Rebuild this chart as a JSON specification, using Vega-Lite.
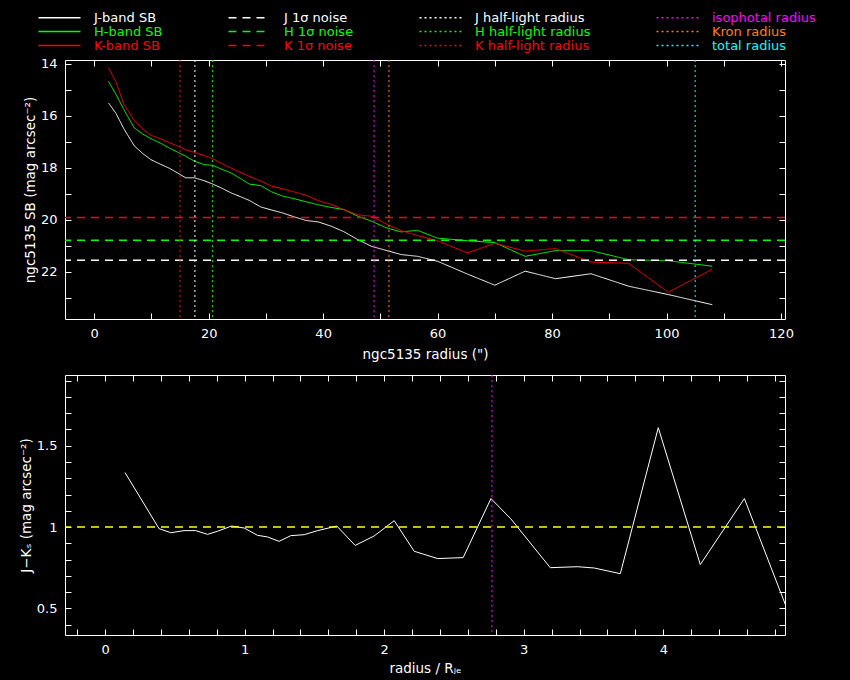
{
  "$schema": "https://vega.github.io/schema/vega-lite/v6.json",
  "background": "black",
  "padding": {"left": 18, "top": 11, "right": 80, "bottom": 60},
  "datasets": {
    "profiles": [
      {"r": 2.5, "J-band SB": 15.50, "H-band SB": 14.67, "K-band SB": 14.15},
      {"r": 3.8, "J-band SB": 15.90, "H-band SB": 15.17, "K-band SB": 14.68},
      {"r": 5.2, "J-band SB": 16.50, "H-band SB": 15.76, "K-band SB": 15.56},
      {"r": 7.0, "J-band SB": 17.15, "H-band SB": 16.46, "K-band SB": 16.18},
      {"r": 8.5, "J-band SB": 17.45, "H-band SB": 16.70, "K-band SB": 16.50},
      {"r": 9.9, "J-band SB": 17.68, "H-band SB": 16.87, "K-band SB": 16.74},
      {"r": 11.6, "J-band SB": 17.86, "H-band SB": 17.05, "K-band SB": 16.88},
      {"r": 13.2, "J-band SB": 18.02, "H-band SB": 17.24, "K-band SB": 17.03},
      {"r": 15.0, "J-band SB": 18.25, "H-band SB": 17.44, "K-band SB": 17.20},
      {"r": 16.0, "J-band SB": 18.38, "H-band SB": 17.55, "K-band SB": 17.30},
      {"r": 17.5, "J-band SB": 18.38, "H-band SB": 17.74, "K-band SB": 17.40},
      {"r": 19.2, "J-band SB": 18.49, "H-band SB": 17.87, "K-band SB": 17.52},
      {"r": 20.7, "J-band SB": 18.62, "H-band SB": 17.90, "K-band SB": 17.64},
      {"r": 22.3, "J-band SB": 18.78, "H-band SB": 18.05, "K-band SB": 17.83},
      {"r": 23.9, "J-band SB": 18.96, "H-band SB": 18.19, "K-band SB": 18.00},
      {"r": 25.5, "J-band SB": 19.10, "H-band SB": 18.40, "K-band SB": 18.16},
      {"r": 27.1, "J-band SB": 19.25, "H-band SB": 18.62, "K-band SB": 18.32},
      {"r": 29.1, "J-band SB": 19.50, "H-band SB": 18.68, "K-band SB": 18.50},
      {"r": 31.0, "J-band SB": 19.62, "H-band SB": 18.92, "K-band SB": 18.70},
      {"r": 32.9, "J-band SB": 19.73, "H-band SB": 19.08, "K-band SB": 18.80},
      {"r": 34.9, "J-band SB": 19.88, "H-band SB": 19.18, "K-band SB": 18.92},
      {"r": 37.0, "J-band SB": 20.02, "H-band SB": 19.30, "K-band SB": 19.05},
      {"r": 39.2, "J-band SB": 20.08, "H-band SB": 19.42, "K-band SB": 19.26},
      {"r": 41.4, "J-band SB": 20.24, "H-band SB": 19.52, "K-band SB": 19.40},
      {"r": 43.6, "J-band SB": 20.45, "H-band SB": 19.60, "K-band SB": 19.60},
      {"r": 46.0, "J-band SB": 20.75, "H-band SB": 19.85, "K-band SB": 19.80},
      {"r": 48.5, "J-band SB": 21.02, "H-band SB": 20.05, "K-band SB": 19.86},
      {"r": 51.0, "J-band SB": 21.17, "H-band SB": 20.30, "K-band SB": 20.15},
      {"r": 53.6, "J-band SB": 21.33, "H-band SB": 20.46, "K-band SB": 20.41},
      {"r": 56.5, "J-band SB": 21.40, "H-band SB": 20.40, "K-band SB": 20.60},
      {"r": 60.0, "J-band SB": 21.59, "H-band SB": 20.70, "K-band SB": 20.80},
      {"r": 65.2, "J-band SB": 22.08, "H-band SB": 20.80, "K-band SB": 21.27},
      {"r": 70.0, "J-band SB": 22.51, "H-band SB": 20.87, "K-band SB": 20.90},
      {"r": 75.3, "J-band SB": 21.97, "H-band SB": 21.40, "K-band SB": 21.20},
      {"r": 80.6, "J-band SB": 22.26, "H-band SB": 21.18, "K-band SB": 21.10},
      {"r": 86.8, "J-band SB": 22.07, "H-band SB": 21.18, "K-band SB": 21.62},
      {"r": 93.4, "J-band SB": 22.55, "H-band SB": 21.53, "K-band SB": 21.67},
      {"r": 100.3, "J-band SB": 22.87, "H-band SB": 21.57, "K-band SB": 22.78},
      {"r": 108.0, "J-band SB": 23.26, "H-band SB": 21.78, "K-band SB": 21.90}
    ],
    "noise": [
      {"series": "J 1σ noise", "sb": 21.55},
      {"series": "H 1σ noise", "sb": 20.78},
      {"series": "K 1σ noise", "sb": 19.91}
    ],
    "radii": [
      {"series": "J half-light radius", "r": 17.6},
      {"series": "H half-light radius", "r": 20.7},
      {"series": "K half-light radius", "r": 15.0},
      {"series": "isophotal radius", "r": 48.9},
      {"series": "Kron radius", "r": 51.5},
      {"series": "total radius", "r": 105.0}
    ],
    "colour": [
      {"x": 0.143, "jk": 1.335}, {"x": 0.387, "jk": 0.990}, {"x": 0.471, "jk": 0.965},
      {"x": 0.566, "jk": 0.978}, {"x": 0.650, "jk": 0.978}, {"x": 0.734, "jk": 0.955},
      {"x": 0.806, "jk": 0.974}, {"x": 0.906, "jk": 1.006}, {"x": 0.997, "jk": 0.994},
      {"x": 1.092, "jk": 0.949}, {"x": 1.164, "jk": 0.939}, {"x": 1.247, "jk": 0.912},
      {"x": 1.331, "jk": 0.947}, {"x": 1.427, "jk": 0.953}, {"x": 1.523, "jk": 0.978},
      {"x": 1.661, "jk": 1.006}, {"x": 1.792, "jk": 0.887}, {"x": 1.928, "jk": 0.945},
      {"x": 2.072, "jk": 1.039}, {"x": 2.215, "jk": 0.851}, {"x": 2.383, "jk": 0.806},
      {"x": 2.566, "jk": 0.812}, {"x": 2.765, "jk": 1.175}, {"x": 2.908, "jk": 1.050},
      {"x": 3.190, "jk": 0.750}, {"x": 3.386, "jk": 0.756}, {"x": 3.505, "jk": 0.748},
      {"x": 3.692, "jk": 0.713}, {"x": 3.964, "jk": 1.611}, {"x": 4.265, "jk": 0.769},
      {"x": 4.581, "jk": 1.175}, {"x": 4.930, "jk": 0.400}
    ]
  },
  "vconcat": [
    {
      "width": 720,
      "height": 259,
      "layer": [
        {
          "data": {"name": "profiles"},
          "transform": [{"fold": ["J-band SB", "H-band SB", "K-band SB"], "as": ["series", "sb"]}],
          "mark": {"type": "line", "strokeWidth": 1, "clip": true},
          "encoding": {
            "x": {
              "field": "r", "type": "quantitative",
              "scale": {"domain": [-5.1, 120.7], "nice": false, "zero": false},
              "axis": {
                "title": "ngc5135 radius (\")",
                "titlePadding": 7,
                "values": [0, 10, 20, 30, 40, 50, 60, 70, 80, 90, 100, 110, 120],
                "labelExpr": "datum.value % 20 == 0 ? datum.label : ''"
              }
            },
            "y": {
              "field": "sb", "type": "quantitative",
              "scale": {"domain": [13.85, 23.81], "reverse": true, "nice": false, "zero": false},
              "axis": {
                "title": "ngc5135 SB (mag arcsec⁻²)",
                "values": [14, 15, 16, 17, 18, 19, 20, 21, 22, 23],
                "labelExpr": "datum.value % 2 == 0 ? datum.label : ''"
              }
            },
            "color": {
              "field": "series", "type": "nominal",
              "scale": {
                "domain": ["J-band SB", "H-band SB", "K-band SB", "J 1σ noise", "H 1σ noise", "K 1σ noise", "J half-light radius", "H half-light radius", "K half-light radius", "isophotal radius", "Kron radius", "total radius"],
                "range": ["#ffffff", "#00ff00", "#ff0000", "#ffffff", "#00ff00", "#ff0000", "#ffffff", "#00ff00", "#ff0000", "#ff00ff", "#ff8000", "#00ffff"]
              },
              "legend": {
                "orient": "none",
                "legendX": -12,
                "legendY": -49,
                "columns": 4,
                "title": null,
                "symbolType": "M-21,0H21",
                "symbolSize": 4,
                "symbolStrokeWidth": 1.5,
                "labelFont": "DejaVu Sans",
                "labelFontSize": 13,
                "labelOffset": 28,
                "columnPadding": 62,
                "rowPadding": 0,
                "encode": {"labels": {"update": {"fill": {"scale": "color", "field": "value"}}}}
              }
            },
            "strokeDash": {
              "field": "series", "type": "nominal",
              "scale": {
                "domain": ["J-band SB", "H-band SB", "K-band SB", "J 1σ noise", "H 1σ noise", "K 1σ noise", "J half-light radius", "H half-light radius", "K half-light radius", "isophotal radius", "Kron radius", "total radius"],
                "range": [[1, 0], [1, 0], [1, 0], [8, 6], [8, 6], [8, 6], [2, 3], [2, 3], [2, 3], [2, 3], [2, 3], [2, 3]]
              }
            }
          }
        },
        {
          "data": {"name": "noise"},
          "mark": {"type": "rule", "strokeWidth": 1.5},
          "encoding": {
            "y": {
              "field": "sb", "type": "quantitative",
              "scale": {"domain": [13.85, 23.81], "reverse": true, "nice": false, "zero": false},
              "axis": {"orient": "right", "labels": false, "title": null, "values": [14, 15, 16, 17, 18, 19, 20, 21, 22, 23]}
            },
            "color": {"field": "series", "type": "nominal"},
            "strokeDash": {"field": "series", "type": "nominal"}
          }
        },
        {
          "data": {"name": "radii"},
          "mark": {"type": "rule", "strokeWidth": 1},
          "encoding": {
            "x": {
              "field": "r", "type": "quantitative",
              "scale": {"domain": [-5.1, 120.7], "nice": false, "zero": false},
              "axis": {"orient": "top", "labels": false, "title": null, "values": [0, 10, 20, 30, 40, 50, 60, 70, 80, 90, 100, 110, 120]}
            },
            "color": {"field": "series", "type": "nominal"},
            "strokeDash": {"field": "series", "type": "nominal"}
          }
        }
      ],
      "resolve": {"axis": {"x": "independent", "y": "independent"}}
    },
    {
      "width": 720,
      "height": 260,
      "layer": [
        {
          "data": {"name": "colour"},
          "mark": {"type": "line", "color": "white", "strokeWidth": 1, "clip": true},
          "encoding": {
            "x": {
              "field": "x", "type": "quantitative",
              "scale": {"domain": [-0.287, 4.872], "nice": false, "zero": false},
              "axis": {
                "title": "radius / Rⱼₑ",
                "titlePadding": 5,
                "values": [-0.2, 0, 0.2, 0.4, 0.6, 0.8, 1, 1.2, 1.4, 1.6, 1.8, 2, 2.2, 2.4, 2.6, 2.8, 3, 3.2, 3.4, 3.6, 3.8, 4, 4.2, 4.4, 4.6, 4.8],
                "labelExpr": "abs(datum.value - round(datum.value)) < 0.01 ? format(datum.value, 'd') : ''"
              }
            },
            "y": {
              "field": "jk", "type": "quantitative",
              "scale": {"domain": [0.336, 1.935], "nice": false, "zero": false},
              "axis": {
                "title": "J−Kₛ (mag arcsec⁻²)",
                "values": [0.4, 0.5, 0.6, 0.7, 0.8, 0.9, 1, 1.1, 1.2, 1.3, 1.4, 1.5, 1.6, 1.7, 1.8, 1.9],
                "labelExpr": "abs(datum.value * 2 - round(datum.value * 2)) < 0.01 ? format(datum.value, '~g') : ''"
              }
            }
          }
        },
        {
          "data": {"values": [{"jk": 1}]},
          "mark": {"type": "rule", "color": "#ffff00", "strokeWidth": 1.5, "strokeDash": [8, 6]},
          "encoding": {
            "y": {
              "field": "jk", "type": "quantitative",
              "scale": {"domain": [0.336, 1.935], "nice": false, "zero": false},
              "axis": {"orient": "right", "labels": false, "title": null, "values": [0.4, 0.5, 0.6, 0.7, 0.8, 0.9, 1, 1.1, 1.2, 1.3, 1.4, 1.5, 1.6, 1.7, 1.8, 1.9]}
            }
          }
        },
        {
          "data": {"values": [{"x": 2.772}]},
          "mark": {"type": "rule", "color": "#ff00ff", "strokeWidth": 1, "strokeDash": [2, 3]},
          "encoding": {
            "x": {
              "field": "x", "type": "quantitative",
              "scale": {"domain": [-0.287, 4.872], "nice": false, "zero": false},
              "axis": {"orient": "top", "labels": false, "title": null, "values": [-0.2, 0, 0.2, 0.4, 0.6, 0.8, 1, 1.2, 1.4, 1.6, 1.8, 2, 2.2, 2.4, 2.6, 2.8, 3, 3.2, 3.4, 3.6, 3.8, 4, 4.2, 4.4, 4.6, 4.8]}
            }
          }
        }
      ],
      "resolve": {"axis": {"x": "independent", "y": "independent"}}
    }
  ],
  "spacing": 13,
  "config": {
    "font": "DejaVu Sans",
    "view": {"stroke": "white", "strokeWidth": 1},
    "axis": {
      "domain": false,
      "grid": false,
      "tickColor": "white",
      "tickSize": -6,
      "tickWidth": 1,
      "labelColor": "white",
      "labelFontSize": 13,
      "labelPadding": 14,
      "titleColor": "white",
      "titleFontSize": 13.5,
      "titleFontWeight": "normal",
      "titlePadding": 3,
      "labelFlush": false,
      "labelOverlap": false
    }
  }
}
